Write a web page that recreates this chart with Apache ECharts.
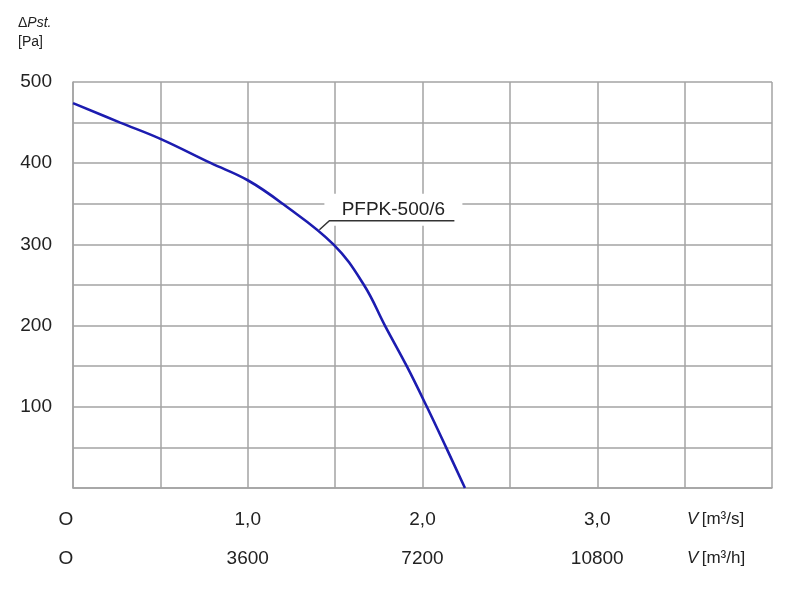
<!DOCTYPE html>
<html>
<head>
<meta charset="utf-8">
<script src="https://cdn.jsdelivr.net/npm/echarts@6/dist/echarts.min.js"></script>
<style>html,body{margin:0;padding:0;background:#fff;}#c{width:800px;height:592px;}</style>
</head>
<body>
<div id="c"></div>
<script>
// Data
const flowRate = [0, 0.27, 0.5, 0.79, 1.0, 1.2, 1.49, 1.665, 1.785, 1.91, 2.025, 2.135, 2.243]; // m3/s
const pressure = [474, 450, 430, 400, 379, 350, 300, 250, 200, 150, 100, 50, 0];               // Pa
const seriesName = 'PFPK-500/6';
const xTicksSec = ['O', '1,0', '2,0', '3,0'];        // at 0,1,2,3 m3/s
const xTicksHour = ['O', '3600', '7200', '10800'];   // at 0,3600,7200,10800 m3/h
const yTicks = ['', '100', '200', '300', '400', '500'];
const labelAnchor = [1.41, 318];

const font = 'Arial, "Liberation Sans", sans-serif';
const gridColor = '#a3a3a3';
const textColor = '#222';

const chart = echarts.init(document.getElementById('c'), null, {renderer: 'canvas'});
chart.setOption({
  animation: false,
  backgroundColor: '#fff',
  grid: {left: 73, right: 28, top: 82, bottom: 104, containLabel: false},
  xAxis: [{
    type: 'value', min: 0, max: 4, interval: 0.5, position: 'bottom',
    axisLine: {show: true, lineStyle: {color: gridColor, width: 1.5}},
    axisTick: {show: false},
    splitLine: {show: true, lineStyle: {color: gridColor, width: 1.5}},
    axisLabel: {
      show: true, margin: 22, color: textColor, fontSize: 19, fontFamily: font,
      formatter: v => (Number.isInteger(v) && v < xTicksSec.length) ? (v === 0 ? '{o|' + xTicksSec[0] + '}' : xTicksSec[v]) : '',
      rich: {o: {fontSize: 19, fontFamily: font, color: textColor, padding: [0, 14, 0, 0]}}
    }
  }, {
    type: 'value', min: 0, max: 14400, interval: 1800, position: 'bottom',
    axisLine: {show: false}, axisTick: {show: false}, splitLine: {show: false},
    axisLabel: {
      show: true, margin: 61, color: textColor, fontSize: 19, fontFamily: font,
      formatter: v => (v % 3600 === 0 && v / 3600 < xTicksHour.length) ? (v === 0 ? '{o|' + xTicksHour[0] + '}' : xTicksHour[v / 3600]) : '',
      rich: {o: {fontSize: 19, fontFamily: font, color: textColor, padding: [0, 14, 0, 0]}}
    }
  }],
  yAxis: {
    type: 'value', min: 0, max: 500, interval: 50,
    axisLine: {show: true, lineStyle: {color: gridColor, width: 1.5}},
    axisTick: {show: false},
    splitLine: {show: true, lineStyle: {color: gridColor, width: 1.5}},
    axisLabel: {
      margin: 21, color: textColor, fontSize: 19, fontFamily: font,
      formatter: v => (v % 100 === 0) ? yTicks[v / 100] : ''
    }
  },
  series: [{
    name: seriesName, type: 'line', xAxisIndex: 0, yAxisIndex: 0,
    smooth: 0.4, showSymbol: false, symbol: 'none',
    lineStyle: {color: '#1c1cb0', width: 2.6},
    data: flowRate.map((v, i) => [v, pressure[i]]),
    z: 3
  }]
});

// Annotation and axis titles
const a = chart.convertToPixel({xAxisIndex: 0, yAxisIndex: 0}, labelAnchor);
const right = chart.convertToPixel({xAxisIndex: 0, yAxisIndex: 0}, [4, 0]);
const bottomY = right[1];
chart.setOption({
  graphic: [
    {type: 'rect', shape: {x: a[0] + 5, y: a[1] - 36, width: 138, height: 32}, style: {fill: '#fff'}, z: 10},
    {type: 'polyline', shape: {points: [[a[0], a[1]], [a[0] + 10, a[1] - 9], [a[0] + 135, a[1] - 9]]},
     style: {stroke: '#333', lineWidth: 1.5, fill: null}, z: 11},
    {type: 'text', x: a[0] + 74, y: a[1] - 11, z: 12,
     style: {text: seriesName, fontSize: 19, fontFamily: font, fill: textColor, align: 'center', verticalAlign: 'bottom'}},
    {type: 'text', x: 18, y: 23, z: 12,
     style: {text: '{a|Δ}{b|Pst.}', verticalAlign: 'middle', align: 'left',
       rich: {a: {fontSize: 14, fontFamily: font, fill: textColor},
              b: {fontSize: 14, fontFamily: font, fontStyle: 'italic', fill: textColor}}}},
    {type: 'text', x: 18, y: 42, z: 12,
     style: {text: '[Pa]', fontSize: 14, fontFamily: font, fill: textColor, verticalAlign: 'middle', align: 'left'}},
    {type: 'text', x: 687, y: bottomY + 31, z: 12,
     style: {text: '{v|V} {t|[m³/s]}', verticalAlign: 'middle', align: 'left',
       rich: {v: {fontSize: 17, fontFamily: font, fontStyle: 'italic', fill: textColor},
              t: {fontSize: 17, fontFamily: font, fill: textColor}}}},
    {type: 'text', x: 687, y: bottomY + 70, z: 12,
     style: {text: '{v|V} {t|[m³/h]}', verticalAlign: 'middle', align: 'left',
       rich: {v: {fontSize: 17, fontFamily: font, fontStyle: 'italic', fill: textColor},
              t: {fontSize: 17, fontFamily: font, fill: textColor}}}}
  ]
});
</script>
</body>
</html>
